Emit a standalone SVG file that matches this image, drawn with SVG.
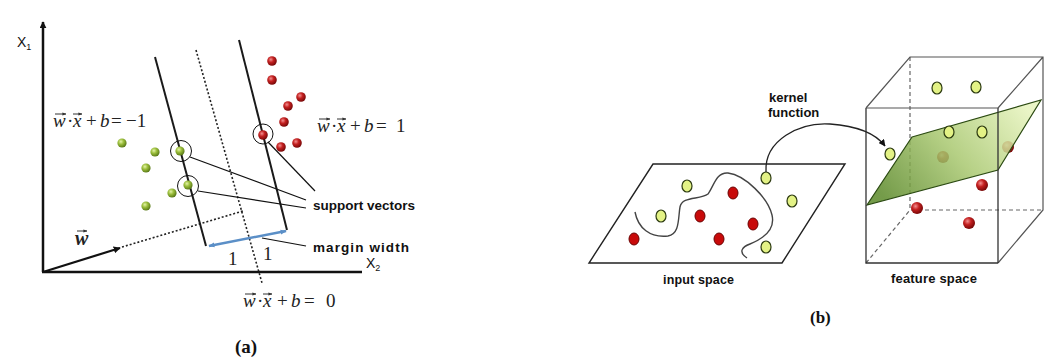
<svg xmlns="http://www.w3.org/2000/svg" width="1049" height="358" viewBox="0 0 1049 358">
<style>
.axis{stroke:#111;stroke-width:2.5;fill:none}
.marg{stroke:#1a1a1a;stroke-width:2;fill:none}
.dot{stroke:#222;stroke-width:1.6;stroke-dasharray:2 2;fill:none}
.ptr{stroke:#111;stroke-width:1.2;fill:none}
.ring{stroke:#111;stroke-width:1;fill:none}
.eq{font-family:"Liberation Serif",serif;font-size:19px;fill:#222}
.it{font-style:italic}
.lbl{font-family:"Liberation Sans",Arial,sans-serif;font-weight:bold;fill:#111}
.cap{font-family:"Liberation Serif",serif;font-weight:bold;fill:#111}
.gpt{fill:#e3f285;stroke:#2c3a10;stroke-width:1.2}
.rpt{fill:#c80a0a;stroke:#6a0000;stroke-width:1}
.cube{stroke:#555;stroke-width:1.2;fill:none}
.cubed{stroke:#666;stroke-width:1.2;fill:none;stroke-dasharray:4 3}
.vec{stroke:#333;stroke-width:1;fill:none}
</style>
<defs>
<radialGradient id="gb" cx="38%" cy="35%" r="65%">
<stop offset="0" stop-color="#e4f3a8"/><stop offset="0.45" stop-color="#9cbf3c"/><stop offset="1" stop-color="#5a7a18"/>
</radialGradient>
<radialGradient id="rb" cx="38%" cy="35%" r="65%">
<stop offset="0" stop-color="#f29090"/><stop offset="0.45" stop-color="#c42020"/><stop offset="1" stop-color="#780808"/>
</radialGradient>
<linearGradient id="pl" gradientUnits="userSpaceOnUse" x1="1020" y1="100" x2="890" y2="205">
<stop offset="0" stop-color="#e6f3bc"/><stop offset="0.5" stop-color="#a9c870"/><stop offset="1" stop-color="#5c8a2a"/>
</linearGradient>
<marker id="ah" viewBox="0 0 10 10" refX="9" refY="5" markerWidth="7" markerHeight="7" orient="auto-start-reverse" markerUnits="userSpaceOnUse">
<path d="M0,0 L10,5 L0,10 z" fill="#111"/>
</marker>
<marker id="ahb" viewBox="0 0 10 10" refX="9" refY="5" markerWidth="6" markerHeight="6" orient="auto-start-reverse" markerUnits="userSpaceOnUse">
<path d="M0,1 L10,5 L0,9 z" fill="#5b8fc7"/>
</marker>
<marker id="ahs" viewBox="0 0 10 10" refX="9" refY="5" markerWidth="4" markerHeight="4" orient="auto" markerUnits="userSpaceOnUse">
<path d="M0,1 L10,5 L0,9 z" fill="#333"/>
</marker>
</defs>
<rect width="1049" height="358" fill="#ffffff"/>

<!-- Panel (a) -->
<g id="axes">
<path class="axis" d="M43,272 V22" marker-end="url(#ah)"/>
<path class="axis" d="M42,272 H362"/>
<text x="17" y="47" class="lbl" style="font-weight:normal;font-size:14px">X<tspan font-size="9" dy="3">1</tspan></text>
<text x="366" y="268" class="lbl" style="font-weight:normal;font-size:14px">X<tspan font-size="9" dy="3">2</tspan></text>
</g>
<g id="w-vector">
<path d="M43,272 L120,248" stroke="#111" stroke-width="2.2" fill="none" marker-end="url(#ah)"/>
<path class="dot" d="M122,247 L243,211"/>
<text x="75" y="245" class="eq it" style="font-weight:bold;font-size:20px">w</text>
<path class="vec" d="M77,231 H87" marker-end="url(#ahs)"/>
</g>
<g id="hyperplanes">
<path class="marg" d="M155,57 L206,246"/>
<path class="marg" d="M239,40 L287,230"/>
<path class="dot" d="M196,50 L262,283"/>
</g>
<g id="margin">
<path d="M209,246 L286,231" stroke="#5b8fc7" stroke-width="2.5" fill="none" marker-start="url(#ahb)" marker-end="url(#ahb)"/>
<text x="228" y="265" class="eq">1</text>
<text x="263" y="260" class="eq">1</text>
</g>
<g id="green-points">
<circle cx="122" cy="143" r="4.6" fill="url(#gb)"/>
<circle cx="155" cy="152" r="4.6" fill="url(#gb)"/>
<circle cx="146" cy="168" r="4.6" fill="url(#gb)"/>
<circle cx="180" cy="151" r="4.6" fill="url(#gb)"/>
<circle cx="188" cy="185" r="4.6" fill="url(#gb)"/>
<circle cx="172" cy="193" r="4.6" fill="url(#gb)"/>
<circle cx="146" cy="206" r="4.6" fill="url(#gb)"/>
</g>
<g id="red-points">
<circle cx="272" cy="61" r="4.8" fill="url(#rb)"/>
<circle cx="272" cy="80" r="4.8" fill="url(#rb)"/>
<circle cx="301" cy="97" r="4.8" fill="url(#rb)"/>
<circle cx="288" cy="106" r="4.8" fill="url(#rb)"/>
<circle cx="284" cy="122" r="4.8" fill="url(#rb)"/>
<circle cx="263" cy="135" r="4.8" fill="url(#rb)"/>
<circle cx="281" cy="147" r="4.8" fill="url(#rb)"/>
<circle cx="297" cy="143" r="4.8" fill="url(#rb)"/>
</g>
<g id="support-vectors">
<circle class="ring" cx="181" cy="151" r="10.5"/>
<circle class="ring" cx="188" cy="186" r="10.5"/>
<circle class="ring" cx="263" cy="134" r="10"/>
<text x="313" y="210" class="lbl" font-size="13.5" textLength="102">support vectors</text>
</g>
<g id="margin-width">
<text x="313" y="252" class="lbl" font-size="13.5" textLength="96">margin width</text>
</g>
<g id="connectors-a">
<path class="ptr" d="M190,157 L306,200"/>
<path class="ptr" d="M198,191 L306,208"/>
<path class="ptr" d="M268,142 L315,191"/>
<path class="ptr" d="M262,238 L306,246"/>
</g>
<g id="eq-minus1">
<text y="127" class="eq"><tspan x="53" class="it">w</tspan><tspan x="67">·</tspan><tspan x="73" class="it">x</tspan><tspan x="86">+</tspan><tspan x="100" class="it">b</tspan><tspan x="111">=</tspan><tspan x="126">−1</tspan></text>
<path class="vec" d="M55,114 H66" marker-end="url(#ahs)"/>
<path class="vec" d="M73,114 H82" marker-end="url(#ahs)"/>
</g>
<g id="eq-plus1">
<text y="132" class="eq"><tspan x="317" class="it">w</tspan><tspan x="331">·</tspan><tspan x="337" class="it">x</tspan><tspan x="350">+</tspan><tspan x="364" class="it">b</tspan><tspan x="376">=</tspan><tspan x="396">1</tspan></text>
<path class="vec" d="M319,119 H330" marker-end="url(#ahs)"/>
<path class="vec" d="M337,119 H346" marker-end="url(#ahs)"/>
</g>
<g id="eq-zero">
<text y="307" class="eq"><tspan x="243" class="it">w</tspan><tspan x="257">·</tspan><tspan x="263" class="it">x</tspan><tspan x="277">+</tspan><tspan x="291" class="it">b</tspan><tspan x="304">=</tspan><tspan x="326">0</tspan></text>
<path class="vec" d="M245,294 H256" marker-end="url(#ahs)"/>
<path class="vec" d="M263,294 H272" marker-end="url(#ahs)"/>
</g>
<text x="235" y="353" class="cap" font-size="19">(a)</text>

<!-- Panel (b) -->
<g id="input-space">
<path d="M653,164 H845 L782,263 H589 Z" fill="none" stroke="#222" stroke-width="1.4"/>
<path d="M635,212 C638,228 650,238 668,236 C680,234 678,218 680,207 C682,196 700,200 708,194 C714,186 716,172 728,173 C745,175 768,198 772,215 C776,232 760,240 750,244 C742,247 738,252 747,258" fill="none" stroke="#444" stroke-width="1.4"/>
<ellipse class="gpt" cx="687" cy="186" rx="5" ry="6"/>
<ellipse class="gpt" cx="766" cy="178" rx="5" ry="6"/>
<ellipse class="gpt" cx="792" cy="201" rx="5" ry="6"/>
<ellipse class="gpt" cx="661" cy="216" rx="5" ry="6"/>
<ellipse class="gpt" cx="766" cy="247" rx="5" ry="6"/>
<ellipse class="rpt" cx="733" cy="193" rx="5" ry="6"/>
<ellipse class="rpt" cx="700" cy="216" rx="5" ry="6"/>
<ellipse class="rpt" cx="753" cy="224" rx="5" ry="6"/>
<ellipse class="rpt" cx="719" cy="239" rx="5" ry="6"/>
<ellipse class="rpt" cx="634" cy="239" rx="5" ry="6"/>
<text x="663" y="284" class="lbl" font-size="12.5" textLength="71">input space</text>
</g>
<g id="feature-space">
<path class="cubed" d="M910,57 V210 H1043 M866,263 L910,210"/>
<path class="cube" d="M866,108 L910,57 H1043 V210 L998,263 M998,108 L1043,57"/>
<ellipse class="gpt" cx="937" cy="88" rx="5" ry="6"/>
<ellipse class="gpt" cx="976" cy="87" rx="5" ry="6"/>
<circle cx="943" cy="157" r="6" fill="url(#rb)"/>
<circle cx="1008" cy="147" r="6" fill="url(#rb)"/>
<path d="M912,137 L1041,100 L998,170 L867,205 Z" fill="url(#pl)" fill-opacity="0.85" stroke="#2b4a12" stroke-width="1.2"/>
<ellipse class="gpt" cx="949" cy="132" rx="5" ry="6"/>
<ellipse class="gpt" cx="982" cy="132" rx="5" ry="6"/>
<ellipse class="gpt" cx="890" cy="154" rx="5" ry="6"/>
<circle cx="982" cy="185" r="6" fill="url(#rb)"/>
<circle cx="917" cy="208" r="6" fill="url(#rb)"/>
<circle cx="969" cy="223" r="6" fill="url(#rb)"/>
<path d="M998,108 V263 M866,108 V263 H998" fill="none" stroke="#333" stroke-width="1.3"/>
<path d="M866,108 H998" fill="none" stroke="#555" stroke-width="1.2"/>
<text x="891" y="283" class="lbl" font-size="13" textLength="86">feature space</text>
</g>
<g id="connectors-b">
<path d="M766,172 C764,140 800,122 830,124 C858,126 876,134 885,146" fill="none" stroke="#222" stroke-width="1.3" marker-end="url(#ah)"/>
<text x="769" y="102" class="lbl" font-size="13">kernel</text>
<text x="768" y="117" class="lbl" font-size="13">function</text>
</g>
<text x="810" y="323" class="cap" font-size="17">(b)</text>
</svg>
